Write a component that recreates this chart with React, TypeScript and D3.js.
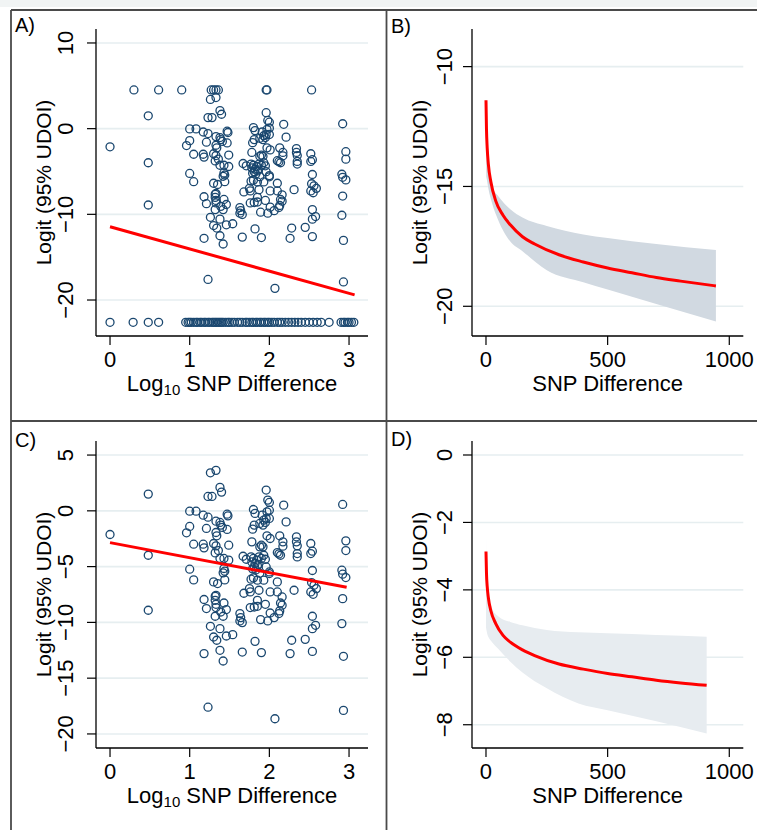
import React from 'react';
import * as d3 from 'd3';

const W = 757;
const H = 830;
const FONT = '"Liberation Sans", Arial, Helvetica, sans-serif';
const NAVY = '#1a476f';
const GRID = '#e6eef0';
const RED = '#ff0000';

// observations between the censoring limits: [log10 SNP difference, logit]
const observed: [number, number][] = [
  [0, -2.12], [0.48, 1.5], [0.48, -3.98], [0.48, -8.91],
  [1.26, 3.41], [1.33, 3.63], [1.38, 2.1], [1.4, 1.68], [1.23, 1.29], [1.28, 1.29],
  [1.0, -0.03], [1.08, -0.03], [1.17, -0.39], [1.23, -0.57], [1.33, -0.93], [1.38, -1.04],
  [1.47, -0.3], [1.48, -0.45], [1.0, -1.4], [0.96, -1.97], [1.21, -1.58], [1.33, -1.94],
  [1.34, -2.24], [1.39, -1.28], [1.41, -1.49], [1.47, -1.67], [1.05, -2.99], [1.17, -2.99],
  [1.18, -3.32], [1.3, -2.93], [1.33, -3.14], [1.36, -3.56], [1.32, -3.77], [1.49, -3.08],
  [1.38, -4.27], [1.43, -4.27], [1.49, -4.42], [1.0, -5.23], [1.05, -6.19], [1.43, -5.17],
  [1.44, -5.41], [1.42, -5.56], [1.3, -6.37], [1.35, -6.52], [1.44, -6.19], [1.33, -7.57],
  [1.96, 1.86], [1.98, 0.96], [2.0, 0.75], [2.18, 0.51], [2.92, 0.57], [1.8, 0.12],
  [1.82, -0.23], [1.91, -0.39], [1.97, -0.09], [2.0, 0.06], [1.93, -0.83], [1.96, -0.68],
  [2.0, -0.68], [1.88, -1.13], [1.92, -1.28], [1.95, -1.04], [1.81, -1.28], [1.79, -1.64],
  [2.21, -0.99], [1.97, -2.24], [2.01, -2.48], [2.13, -2.24], [2.17, -2.78], [2.17, -3.17],
  [2.34, -2.33], [2.34, -2.78], [2.35, -3.14], [2.52, -2.93], [2.96, -2.69], [2.96, -3.56],
  [1.78, -2.78], [1.9, -3.08], [1.92, -3.23], [1.88, -3.23], [2.1, -3.74], [2.12, -3.86],
  [2.14, -3.98], [2.35, -3.83], [2.35, -4.13], [2.52, -3.83], [2.54, -3.62], [1.67, -4.07],
  [1.71, -4.34], [1.77, -4.13], [1.8, -4.27], [1.84, -4.42], [1.87, -4.13], [1.9, -4.27],
  [1.78, -4.58], [1.82, -4.72], [1.85, -4.94], [1.81, -5.03], [1.93, -3.98], [1.95, -4.34],
  [1.96, -5.03], [2.0, -5.48], [1.83, -5.3], [1.88, -5.6], [1.86, -4.8], [1.79, -5.2],
  [2.54, -5.35], [2.91, -5.32], [2.92, -5.68], [2.96, -5.98], [1.8, -6.01], [1.77, -6.13],
  [1.85, -6.22], [1.93, -6.22], [2.0, -5.62], [2.1, -6.37], [2.53, -6.43], [2.56, -6.67],
  [1.75, -6.97], [1.87, -7.12], [1.68, -7.39], [2.01, -7.27], [2.1, -7.27], [2.31, -7.12],
  [2.52, -7.27], [2.59, -6.97], [2.55, -7.48], [1.76, -7.27],
  [1.18, -7.95], [1.32, -7.66], [1.32, -8.02], [1.33, -8.38], [1.43, -8.26], [1.21, -8.76],
  [1.33, -8.67], [1.39, -9.07], [1.46, -8.85], [1.32, -9.45], [1.42, -9.45], [1.26, -10.35],
  [1.38, -10.56], [1.3, -11.31], [1.34, -11.6], [1.46, -11.22], [1.54, -11.1], [1.18, -12.8],
  [1.38, -12.5], [1.42, -13.46], [1.23, -17.6],
  [2.92, -7.87], [2.16, -7.72], [2.14, -8.26], [2.16, -8.46], [2.13, -8.97], [2.12, -9.21],
  [1.85, -8.02], [1.81, -8.62], [1.76, -8.67], [1.85, -8.56], [1.95, -8.38], [2.01, -9.16],
  [2.06, -9.57], [1.98, -9.87], [1.89, -9.75], [1.63, -9.21], [1.64, -9.57], [1.66, -10.02],
  [1.63, -9.87], [2.54, -9.45], [2.58, -10.26], [2.54, -10.56], [2.91, -10.11], [1.82, -11.7],
  [2.28, -11.6], [2.45, -11.52], [1.66, -12.66], [1.9, -12.71], [2.26, -12.8], [2.54, -12.6],
  [2.93, -13.04], [2.07, -18.64], [2.93, -17.89],
];

// censored observations only shown in panel A
const ceilingX = [0.3, 0.61, 0.9, 1.27, 1.3, 1.33, 1.36, 1.96, 1.97, 2.53];
const ceilingY = 4.52;
const floorX = [
  0, 0.29, 0.48, 0.61, 0.95, 0.98, 1.0, 1.02, 1.05, 1.08, 1.1, 1.13, 1.15, 1.18, 1.2, 1.23,
  1.25, 1.28, 1.3, 1.32, 1.34, 1.36, 1.38, 1.4, 1.42, 1.45, 1.48, 1.5, 1.53, 1.56, 1.6, 1.63,
  1.66, 1.7, 1.72, 1.75, 1.78, 1.8, 1.83, 1.85, 1.88, 1.9, 1.93, 1.95, 1.98, 2.0, 2.03, 2.06,
  2.1, 2.13, 2.16, 2.2, 2.24, 2.28, 2.32, 2.36, 2.4, 2.45, 2.5, 2.55, 2.6, 2.65, 2.75, 2.9,
  2.93, 2.95, 2.98, 3.0, 3.03, 3.06,
];
const floorY = -22.6;

const fitA: [number, number][] = [[0, -11.45], [3.07, -19.4]];
const fitC: [number, number][] = [[0, -2.85], [2.97, -6.85]];

// panel B: predicted logit by SNP difference
const curveBSnp = [0, 2, 5, 10, 20, 40, 70, 100, 150, 200, 300, 400, 500, 600, 700, 800, 945];
const curveBFit = [-11.4, -12.6, -13.4, -14.1, -14.8, -15.6, -16.2, -16.6, -17.1, -17.4, -17.85, -18.15, -18.4, -18.6, -18.8, -18.95, -19.15];
const bandBSnp = [1, 5, 10, 25, 50, 100, 150, 250, 400, 500, 700, 945];
const bandBUpper = [-13.6, -14.0, -14.4, -15.0, -15.4, -15.95, -16.3, -16.65, -17.0, -17.15, -17.4, -17.65];
const bandBLower = [-14.6, -14.8, -15.1, -15.7, -16.4, -17.3, -17.7, -18.5, -19.0, -19.3, -19.9, -20.64];

// panel D
const curveDSnp = [0, 2, 5, 10, 20, 40, 70, 100, 150, 200, 300, 400, 500, 600, 700, 800, 907];
const curveDFit = [-2.86, -3.5, -3.9, -4.25, -4.62, -5.0, -5.35, -5.55, -5.78, -5.95, -6.2, -6.35, -6.48, -6.58, -6.68, -6.76, -6.83];
const bandDSnp = [0, 2, 5, 10, 25, 50, 100, 150, 250, 380, 500, 700, 907];
const bandDUpper = [-2.0, -3.7, -4.0, -4.2, -4.55, -4.78, -4.95, -5.05, -5.19, -5.26, -5.29, -5.34, -5.39];
const bandDLower = [-5.1, -5.2, -5.3, -5.4, -5.55, -5.75, -6.13, -6.45, -6.92, -7.37, -7.57, -7.9, -8.26];

const xTicksLog = [0, 1, 2, 3];
const xTicksSnp = [0, 500, 1000];
const yTicksA = [-20, -10, 0, 10];
const yTicksB = [-20, -15, -10];
const yTicksC = [-20, -15, -10, -5, 0, 5];
const yTicksD = [-8, -6, -4, -2, 0];

const fmt = (v: number) => (v < 0 ? '\u2212' + Math.abs(v) : String(v));

type Box = { left: number; right: number; top: number; bottom: number };

const Axes = ({ box, x, y, xTicks, yTicks, labelOff, logTitle }: any) => (
  <g fontFamily={FONT} fill="#000">
    {yTicks.map((t: number) => (
      <line key={'g' + t} x1={box.left} x2={box.right} y1={y(t)} y2={y(t)} stroke={GRID} strokeWidth={1.6} />
    ))}
    <line x1={box.left} x2={box.left} y1={box.top} y2={box.bottom} stroke="#000" strokeWidth={1.3} />
    <line x1={box.left} x2={box.right} y1={box.bottom} y2={box.bottom} stroke="#000" strokeWidth={1.3} />
    {yTicks.map((t: number) => (
      <g key={'y' + t}>
        <line x1={box.left - 9} x2={box.left} y1={y(t)} y2={y(t)} stroke="#000" strokeWidth={1.2} />
        <text transform={`translate(${box.left - labelOff},${y(t)}) rotate(-90)`} textAnchor="middle" fontSize={22}>
          {fmt(t)}
        </text>
      </g>
    ))}
    {xTicks.map((t: number) => (
      <g key={'x' + t}>
        <line x1={x(t)} x2={x(t)} y1={box.bottom} y2={box.bottom + 9} stroke="#000" strokeWidth={1.2} />
        <text x={x(t)} y={box.bottom + 30.5} textAnchor="middle" fontSize={22}>
          {fmt(t)}
        </text>
      </g>
    ))}
    <text
      transform={`translate(${box.left - 45},${(box.top + box.bottom) / 2}) rotate(-90)`}
      textAnchor="middle"
      fontSize={21}
    >
      Logit (95% UDOI)
    </text>
    {logTitle ? (
      <text x={(box.left + box.right) / 2} y={box.bottom + 54.5} textAnchor="middle" fontSize={22}>
        Log<tspan fontSize={15} dy={4}>10</tspan>
        <tspan dy={-4}> SNP Difference</tspan>
      </text>
    ) : (
      <text x={(box.left + box.right) / 2} y={box.bottom + 54.5} textAnchor="middle" fontSize={22}>
        SNP Difference
      </text>
    )}
  </g>
);

const ScatterPanel = ({ box, xDom, yDom, yTicks, fit, censored }: any) => {
  const x = d3.scaleLinear().domain(xDom).range([box.left, box.right]);
  const y = d3.scaleLinear().domain(yDom).range([box.bottom, box.top]);
  const line = d3.line<[number, number]>().x(d => x(d[0])).y(d => y(d[1]));
  const pts: [number, number][] = censored
    ? [...observed, ...ceilingX.map(v => [v, ceilingY] as [number, number]), ...floorX.map(v => [v, floorY] as [number, number])]
    : observed;
  return (
    <g>
      <Axes box={box} x={x} y={y} xTicks={xTicksLog} yTicks={yTicks} labelOff={23} logTitle />
      {pts.map((p, i) => (
        <circle key={i} cx={x(p[0])} cy={y(p[1])} r={4} fill="none" stroke={NAVY} strokeWidth={1.3} />
      ))}
      <path d={line(fit) || ''} fill="none" stroke={RED} strokeWidth={3} />
    </g>
  );
};

const CurvePanel = ({ box, yDom, yTicks, snp, fit, bSnp, upper, lower, bandColor }: any) => {
  const x = d3.scaleLinear().domain([-57.5, 1057.6]).range([box.left, box.right]);
  const y = d3.scaleLinear().domain(yDom).range([box.bottom, box.top]);
  const area = d3
    .area<number>()
    .x((d, i) => x(bSnp[i]))
    .y0((d, i) => y(lower[i]))
    .y1((d, i) => y(upper[i]))
    .curve(d3.curveMonotoneX);
  const line = d3
    .line<number>()
    .x((d, i) => x(snp[i]))
    .y(d => y(d))
    .curve(d3.curveMonotoneX);
  return (
    <g>
      <Axes box={box} x={x} y={y} xTicks={xTicksSnp} yTicks={yTicks} labelOff={20} />
      <path d={area(upper) || ''} fill={bandColor} />
      <path d={line(fit) || ''} fill="none" stroke={RED} strokeWidth={3} strokeLinejoin="round" />
    </g>
  );
};

export default function App() {
  const off = 412;
  const boxA: Box = { left: 96, right: 368, top: 29, bottom: 336 };
  const boxB: Box = { left: 472, right: 743.3, top: 29, bottom: 336 };
  const boxC: Box = { left: 96, right: 368, top: 29 + off, bottom: 336 + off };
  const boxD: Box = { left: 472, right: 743.3, top: 29 + off, bottom: 336 + off };
  return (
    <svg width={W} height={H} style={{ position: 'absolute', left: 0, top: 0, background: '#fff' }}>
      <rect x={0} y={0} width={W} height={7} fill="#f1f4f4" />
      <ScatterPanel box={boxA} xDom={[-0.176, 3.238]} yDom={[-24.2, 11.63]} yTicks={yTicksA} fit={fitA} censored />
      <CurvePanel box={boxB} yDom={[-21.24, -8.43]} yTicks={yTicksB} snp={curveBSnp} fit={curveBFit}
        bSnp={bandBSnp} upper={bandBUpper} lower={bandBLower} bandColor="#d1d9e1" />
      <ScatterPanel box={boxC} xDom={[-0.176, 3.238]} yDom={[-21.26, 6.26]} yTicks={yTicksC} fit={fitC} />
      <CurvePanel box={boxD} yDom={[-8.69, 0.415]} yTicks={yTicksD} snp={curveDSnp} fit={curveDFit}
        bSnp={bandDSnp} upper={bandDUpper} lower={bandDLower} bandColor="#e7ecf0" />
      <g stroke="#4a4a4a" strokeWidth={1.8}>
        <line x1={11} x2={W} y1={10} y2={10} />
        <line x1={11} x2={11} y1={10} y2={H} />
        <line x1={386.5} x2={386.5} y1={10} y2={H} />
        <line x1={11} x2={W} y1={421} y2={421} />
      </g>
      <g fontFamily={FONT}>
        <text x={15} y={32} fontSize={20}>A)</text>
        <text x={391} y={33} fontSize={20}>B)</text>
        <text x={15} y={447} fontSize={20}>C)</text>
        <text x={391} y={446} fontSize={20}>D)</text>
      </g>
    </svg>
  );
}
